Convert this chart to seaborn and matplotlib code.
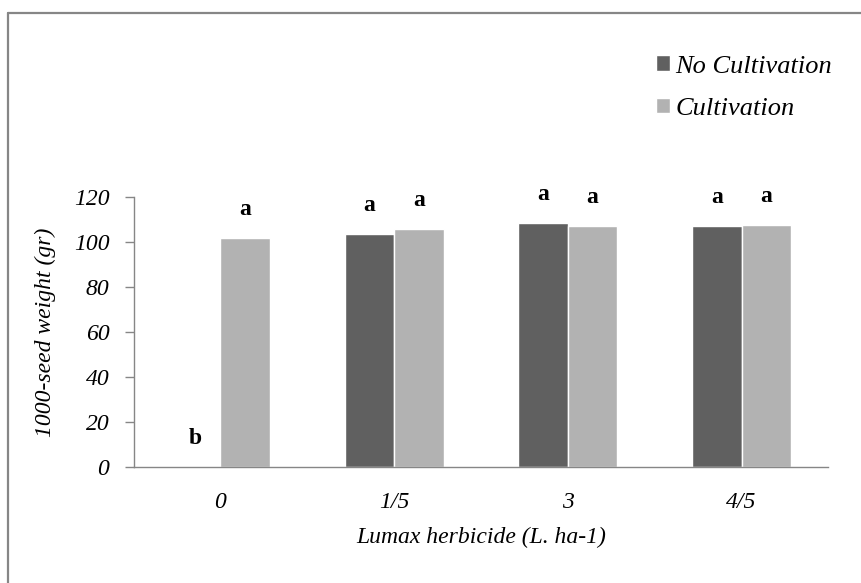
import seaborn as sns
import matplotlib.pyplot as plt
import pandas as pd
from matplotlib.lines import Line2D

dosis = ["0", "1/5", "3", "4/5"]
no_cultivo = [0, 103.6, 108.4, 107.1]
cultivo = [101.9, 105.8, 107.1, 107.7]
letras_no = ["b", "a", "a", "a"]
letras_si = ["a", "a", "a", "a"]

df = pd.DataFrame({
    "dosis": dosis * 2,
    "peso": no_cultivo + cultivo,
    "trat": ["No Cultivation"] * 4 + ["Cultivation"] * 4,
})

sns.set_theme(style="white")
plt.rcParams['font.family'] = ['Liberation Serif', 'DejaVu Serif']
plt.rcParams['text.color'] = 'black'
plt.rcParams['xtick.color'] = 'black'
plt.rcParams['ytick.color'] = 'black'
plt.rcParams['axes.labelcolor'] = 'black'

fig = plt.figure(figsize=(8.62, 5.83), dpi=100)
ax = fig.add_axes([0.155, 0.1995, 0.806, 0.462])
sns.barplot(data=df, x="dosis", y="peso", hue="trat", order=dosis,
            hue_order=["No Cultivation", "Cultivation"],
            palette=["#606060", "#b2b2b2"], width=0.57, saturation=1,
            errorbar=None, ax=ax)

# letras de significancia
for cont, letras in zip(ax.containers, [letras_no, letras_si]):
    for barra, let in zip(cont, letras):
        x = barra.get_x() + barra.get_width() / 2
        y = barra.get_height()
        ax.annotate(let, (x, y), xytext=(0, 13), textcoords="offset points",
                    ha="center", va="bottom", fontsize=17, fontweight="bold")

ax.set_ylim(0, 120)
ax.set_yticks(range(0, 121, 20))
ax.set_xlim(-0.5, 3.5)
ax.set_xlabel("Lumax herbicide (L. ha-1)", fontsize=17, style="italic", labelpad=10)
ax.set_ylabel("1000-seed weight (gr)", fontsize=17, style="italic", labelpad=13)
ax.tick_params(axis="y", labelsize=17, left=True, length=6.5, color="#868686", width=1, pad=11)
ax.tick_params(axis="x", labelsize=17, bottom=False, pad=12)
for t in ax.get_xticklabels() + ax.get_yticklabels():
    t.set_style("italic")
for s in ["top", "right"]:
    ax.spines[s].set_visible(False)
for s in ["left", "bottom"]:
    ax.spines[s].set_color("#868686")
    ax.spines[s].set_linewidth(1)

leg = ax.legend(loc="upper left", bbox_to_anchor=(0.717, 1.615), frameon=False,
                prop={"size": 19, "style": "italic"}, handlelength=0.55,
                handleheight=0.55, handletextpad=0.2, labelspacing=0.75)

# marco superior e izquierdo
fig.add_artist(Line2D([0.009, 1.0], [0.977, 0.977], color="#868686", linewidth=1.6))
fig.add_artist(Line2D([0.009, 0.009], [0.0, 0.977], color="#868686", linewidth=1.6))

plt.savefig("out.png", dpi=100)
